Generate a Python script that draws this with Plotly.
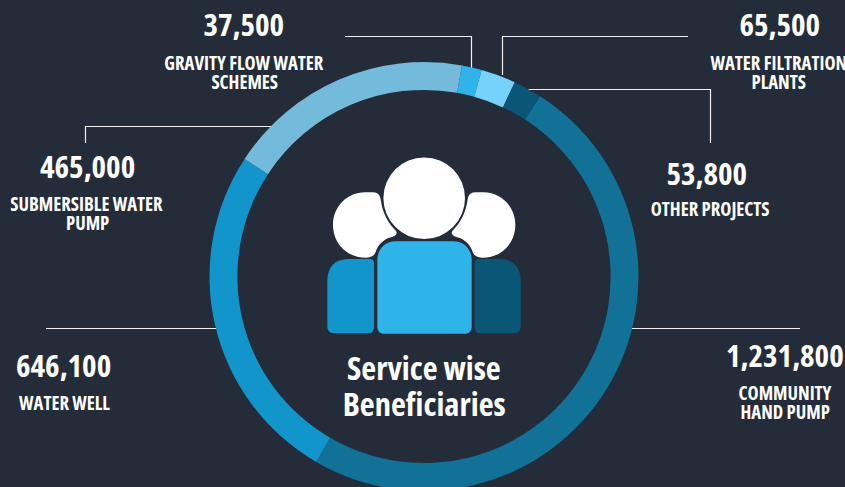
import plotly.graph_objects as go

categories = ["GRAVITY FLOW WATER|SCHEMES", "WATER FILTRATION|PLANTS", "OTHER PROJECTS",
              "COMMUNITY|HAND PUMP", "WATER WELL", "SUBMERSIBLE WATER|PUMP"]
values = [37500, 65500, 53800, 1231800, 646100, 465000]
colors = ["#2FB4EA", "#76D2FA", "#0A5676", "#127196", "#1295CA", "#74BADA"]
title_lines = ["Service wise", "Beneficiaries"]

W, H = 845, 500
BG = "#242C3A"
FONT = "Open Sans"

def px(x): return x / W
def py(y): return 1 - y / H

# text placement in pixels: value centre, value y, label centre, first label y
placement = [
    (243, 24, 244, 62),
    (779, 24, 779, 62),
    (706, 173, 710, 209),
    (785, 355, 785, 392),
    (63, 365, 64, 402),
    (87, 166, 87, 204),
]
leaders = [
    [(345, 36.5), (471.5, 36.5), (471.5, 70)],
    [(502.5, 75), (502.5, 36.5), (688, 36.5)],
    [(525, 89.5), (710.5, 89.5), (710.5, 143)],
    [(632, 328.5), (800, 328.5)],
    [(46, 328.5), (218, 328.5)],
    [(85.5, 143), (85.5, 126.5), (272, 126.5)],
]

fig = go.Figure(go.Pie(
    values=values,
    labels=[c.replace("|", " ") for c in categories],
    marker=dict(colors=colors, line=dict(width=0)),
    hole=0.87, sort=False, direction="clockwise", rotation=10.2,
    textinfo="none", showlegend=False,
    domain=dict(x=[px(209.5), px(638.5)], y=[py(491), py(62)]),
))

ann = []
def text(x, y, s, size):
    ann.append(dict(x=px(x), y=py(y), xref="paper", yref="paper", text=f"<b>{s}</b>", showarrow=False,
                    xanchor="center", yanchor="middle",
                    font=dict(family=FONT, size=size, color="white")))

for cat, val, (vx, vy, lx, ly) in zip(categories, values, placement):
    text(vx, vy, f"{val:,}", 31)
    for i, line in enumerate(cat.split("|")):
        text(lx, ly + 19 * i, line, 18.7)
for i, line in enumerate(title_lines):
    text(424, 367 + 36 * i, line, 32.5)

shapes = []
for pts in leaders:
    d = "M" + " L".join(f"{px(x)},{py(y)}" for x, y in pts)
    shapes.append(dict(type="path", xref="paper", yref="paper", path=d, layer="below",
                       line=dict(color="#F0F0F0", width=1.2), fillcolor="rgba(0,0,0,0)"))

def z(a, b):
    return f"{px(310 + a / 3)},{py(150 + b / 3)}"

def path(cmds):
    out = []
    for c in cmds:
        out.append(c[0] + " ".join(z(c[i], c[i + 1]) for i in range(1, len(c), 2)))
    return " ".join(out) + " Z"

def mirror(a): return 685 - a

def head(m):
    f = (lambda a: a) if not m else mirror
    return path([
        ("M", f(190), 127),
        ("C", f(203), 128, f(209), 134, f(212), 148),
        ("C", f(217), 190, f(236), 222, f(258), 243),
        ("C", f(263), 250, f(257), 258, f(248), 260),
        ("C", f(228), 264, f(208), 278, f(199), 300),
        ("C", f(195), 315, f(187), 322, f(170), 323),
        ("C", f(112), 325, f(69), 280, f(69), 225),
        ("C", f(69), 170, f(112), 127, f(165), 127),
    ])

def side_body(m):
    f = (lambda a: a) if not m else mirror
    l, r = (52, 192) if not m else (53, 191)
    return path([
        ("M", f(r - 12), 327),
        ("L", f(115), 327),
        ("C", f(75), 327, f(l), 352, f(l), 392),
        ("L", f(l), 530),
        ("C", f(l), 543, f(l + 9), 550, f(l + 22), 550),
        ("L", f(r - 18), 550),
        ("C", f(r - 6), 550, f(r), 543, f(r), 530),
        ("L", f(r), 339),
        ("C", f(r), 331, f(r - 4), 327, f(r - 12), 327),
    ])

center_body = path([
    ("M", 258, 274), ("L", 429, 274),
    ("C", 462, 274, 485, 298, 485, 330),
    ("L", 485, 530),
    ("C", 485, 543, 477, 551, 464, 551),
    ("L", 223, 551),
    ("C", 210, 551, 202, 543, 202, 530),
    ("L", 202, 330),
    ("C", 202, 298, 225, 274, 258, 274),
])

for d, col in [(head(False), "white"), (head(True), "white"),
               (side_body(False), "#1295CA"), (side_body(True), "#0A5676"),
               (center_body, "#2FB4EA")]:
    shapes.append(dict(type="path", xref="paper", yref="paper", path=d, fillcolor=col,
                       line=dict(width=0), layer="above"))

shapes.append(dict(type="circle", xref="paper", yref="paper",
                   x0=px(424.2 - 40.8), x1=px(424.2 + 40.8), y0=py(198.2 + 40.8), y1=py(198.2 - 40.8),
                   fillcolor="white", line=dict(width=0), layer="above"))

fig.update_layout(width=W, height=H, margin=dict(l=0, r=0, t=0, b=0),
                  paper_bgcolor=BG, plot_bgcolor=BG, annotations=ann, shapes=shapes)

fig.write_html("out.html", config={"displayModeBar": False}, post_script=(
    "document.documentElement.style.overflow='hidden';"
    "document.body.style.overflow='hidden';"
    "document.body.style.margin='0';"
    f"document.body.style.background='{BG}';"
    "document.querySelectorAll('.annotation-text').forEach(function(t){t.style.fontStretch='50%';});"
))
